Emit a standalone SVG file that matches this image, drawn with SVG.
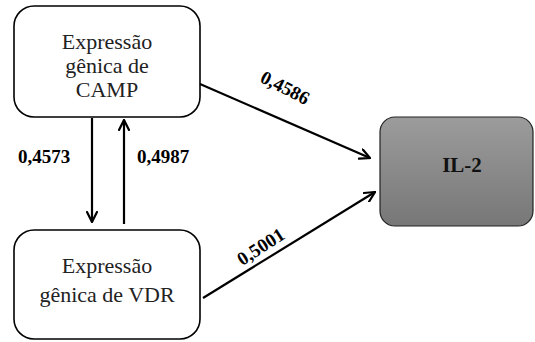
<svg xmlns="http://www.w3.org/2000/svg" width="535" height="342" viewBox="0 0 535 342">
<style>
.box{fill:#fff;stroke:#000;stroke-width:1.6}
.c{stroke:#000;stroke-width:2.2;fill:none}
.ah{stroke:#000;stroke-width:2.2;fill:none;stroke-linecap:round;stroke-linejoin:miter}
</style>
<defs>
<linearGradient id="g" x1="0" y1="0" x2="0" y2="1">
<stop offset="0" stop-color="#9c9c9c"/>
<stop offset="1" stop-color="#777"/>
</linearGradient>
<marker id="a" viewBox="0 0 12 12" refX="11" refY="6" markerWidth="12" markerHeight="12" markerUnits="userSpaceOnUse" orient="auto">
<path d="M1,1 L11,6 L1,11" class="ah" stroke-width="2"/>
</marker>
</defs>
<g id="camp" font-family="Liberation Serif" font-size="22" fill="#222" text-anchor="middle">
<rect class="box" x="14" y="6" width="186" height="111" rx="20"/>
<text x="107" y="49">Expressão</text>
<text x="107" y="73">gênica de</text>
<text x="107" y="97">CAMP</text>
</g>
<g id="vdr" font-family="Liberation Serif" font-size="22" fill="#222" text-anchor="middle">
<rect class="box" x="14" y="230" width="186" height="109" rx="20"/>
<text x="107" y="273">Expressão</text>
<text x="107" y="302">gênica de VDR</text>
</g>
<g id="il2" font-family="Liberation Serif" font-weight="bold">
<rect x="380" y="117" width="153" height="109" rx="15" fill="url(#g)" stroke="#222" stroke-width="1.2"/>
<text x="462" y="172" text-anchor="middle" font-size="21" fill="#111">IL-2</text>
</g>
<g id="connectors">
<line class="c" x1="92" y1="118" x2="92" y2="222" marker-end="url(#a)"/>
<line class="c" x1="124" y1="224" x2="124" y2="120" marker-end="url(#a)"/>
<line class="c" x1="200" y1="84" x2="370" y2="158" marker-end="url(#a)"/>
<line class="c" x1="203" y1="298" x2="375" y2="192" marker-end="url(#a)"/>
<g font-family="Liberation Serif" font-size="19" font-weight="bold" fill="#000">
<text x="18" y="163">0,4573</text>
<text x="137" y="163">0,4987</text>
<text x="285" y="94" text-anchor="middle" transform="rotate(27 285 88)">0,4586</text>
<text x="261" y="253" text-anchor="middle" transform="rotate(-33 261 247)">0,5001</text>
</g>
</g>
</svg>
